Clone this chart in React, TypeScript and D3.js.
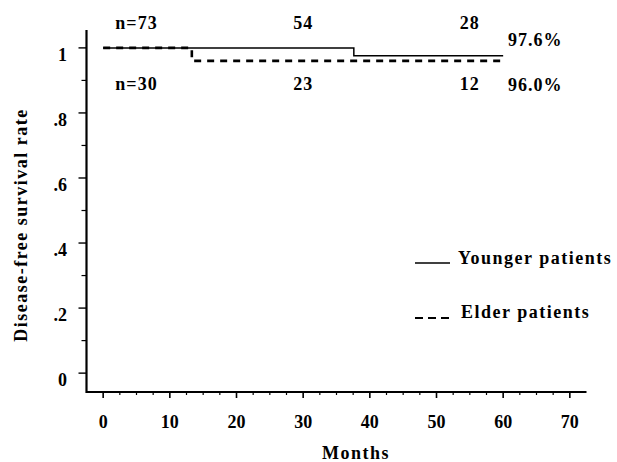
import React from 'react';
import * as d3 from 'd3';

// Kaplan-Meier steps: survival from each time onwards
const youngerTimes = [0, 37.6, 60];
const youngerSurv = [1, 0.976, 0.976];
const elderTimes = [0, 13.3, 60];
const elderSurv = [1, 0.96, 0.96];

// numbers at risk
const riskTimes = [5, 30, 55];
const youngerAtRisk = ['n=73', '54', '28'];
const elderAtRisk = ['n=30', '23', '12'];

const xTicks = [0, 10, 20, 30, 40, 50, 60, 70];
const yTicks = [0, 0.2, 0.4, 0.6, 0.8, 1];
const yTickLabels = ['0', '.2', '.4', '.6', '.8', '1'];
const endLabels = ['97.6%', '96.0%'];
const legendLabels = ['Younger patients', 'Elder patients'];

const W = 617;
const H = 462;
const font = '"Liberation Serif", "Times New Roman", serif';

export default function App() {
  const x = d3.scaleLinear().domain([-2.5, 72.5]).range([86.5, 586.5]);
  const y = d3.scaleLinear().domain([-0.058, 1.055]).range([392, 30]);

  const line = d3.line<[number, number]>()
    .x(d => x(d[0]))
    .y(d => y(d[1]))
    .curve(d3.curveStepAfter);

  const younger = youngerTimes.map((t, i) => [t, youngerSurv[i]] as [number, number]);
  const elder = elderTimes.map((t, i) => [t, elderSurv[i]] as [number, number]);

  const xMinor = d3.range(0, 72.5, 2.5).filter(v => v % 10 !== 0);
  const yMinor = d3.range(0.1, 1.05, 0.2);

  const [x0, x1] = x.range();
  const [yb, yt] = y.range();
  const txt = { fontFamily: font, fontWeight: 700, fontSize: 18, letterSpacing: 1.5 } as const;
  const last = youngerSurv.length - 1;

  return (
    <svg width={W} height={H} style={{ position: 'absolute', left: 0, top: 0, background: '#fff' }}>
      {/* axes */}
      <line x1={x0} x2={x0} y1={yt} y2={yb + 1} stroke="#000" strokeWidth={2.2} />
      <line x1={x0} x2={x1} y1={yb} y2={yb} stroke="#000" strokeWidth={2.2} />

      {yTicks.map((v, i) => (
        <g key={'yt' + i}>
          <line x1={x0 - 8} x2={x0} y1={y(v)} y2={y(v)} stroke="#000" strokeWidth={1.4} />
          <text x={67} y={y(v) + 13} textAnchor="end" {...txt} letterSpacing={0}>{yTickLabels[i]}</text>
        </g>
      ))}
      {yMinor.map((v, i) => (
        <line key={'ym' + i} x1={x0 - 5} x2={x0} y1={y(v)} y2={y(v)} stroke="#000" strokeWidth={1.2} />
      ))}

      {xTicks.map(v => (
        <g key={'xt' + v}>
          <line x1={x(v)} x2={x(v)} y1={yb} y2={yb + 6} stroke="#000" strokeWidth={1.6} />
          <text x={x(v)} y={428} textAnchor="middle" {...txt} letterSpacing={0}>{v}</text>
        </g>
      ))}
      {xMinor.map((v, i) => (
        <line key={'xm' + i} x1={x(v)} x2={x(v)} y1={yb} y2={yb + 3} stroke="#000" strokeWidth={1.2} />
      ))}

      {/* axis titles */}
      <text x={356} y={459} textAnchor="middle" {...txt}>Months</text>
      <text transform={`translate(27,225) rotate(-90)`} textAnchor="middle" {...txt}>Disease-free survival rate</text>

      {/* curves */}
      <path d={line(younger) ?? ''} fill="none" stroke="#000" strokeWidth={1.5} />
      <path d={line(elder) ?? ''} fill="none" stroke="#000" strokeWidth={2.6} strokeDasharray="7,6" />

      {/* numbers at risk */}
      {riskTimes.map((t, i) => (
        <g key={'r' + i}>
          <text x={x(t)} y={y(1) - 19} textAnchor="middle" {...txt} letterSpacing={1}>{youngerAtRisk[i]}</text>
          <text x={x(t)} y={y(1) + 42} textAnchor="middle" {...txt} letterSpacing={1}>{elderAtRisk[i]}</text>
        </g>
      ))}

      {/* survival at 60 months */}
      <text x={508} y={y(youngerSurv[last]) - 10} {...txt} letterSpacing={1}>{endLabels[0]}</text>
      <text x={508} y={y(elderSurv[last]) + 30} {...txt} letterSpacing={1}>{endLabels[1]}</text>

      {/* legend */}
      <line x1={415} x2={450} y1={263} y2={263} stroke="#000" strokeWidth={1.5} />
      <text x={458} y={264} {...txt}>{legendLabels[0]}</text>
      <line x1={415} x2={450} y1={318} y2={318} stroke="#000" strokeWidth={2.2} strokeDasharray="8,5" />
      <text x={461} y={318} {...txt}>{legendLabels[1]}</text>
    </svg>
  );
}
